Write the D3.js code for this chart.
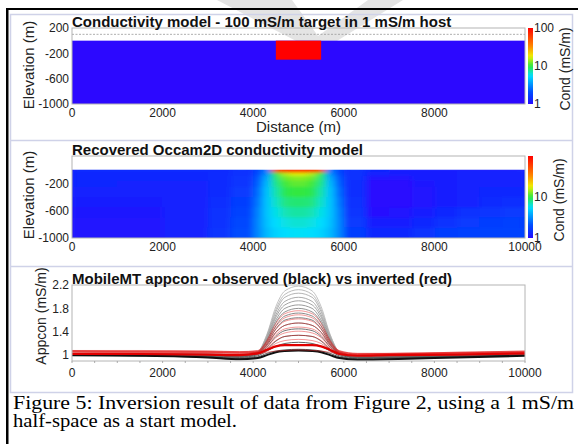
<!DOCTYPE html>
<html>
<head>
<meta charset="utf-8">
<script src="https://cdn.jsdelivr.net/npm/d3@7"></script>
<style>
body { margin: 0; background: #fff; }
svg { display: block; font-family: Arial, "Liberation Sans", sans-serif; }
</style>
</head>
<body>
<div id="chart"></div>
<script>
'use strict';

// distance ticks (m)
let distTicks = [0, 2000, 4000, 6000, 8000, 10000];
let condTicks = [1, 10, 100];

// panel 1 - true model blocks
let modelX0 = [0, 4500];
let modelX1 = [10000, 5500];
let modelTop = [0, 0];
let modelBottom = [-1000, -300];
let modelCond = [1, 100];
let sensorElev = 100;

// panel 2 - recovered Occam2D model (mS/m), rows from surface down
let occamX = [0, 1000, 2000, 3000, 3500, 4000, 4200, 4400, 4600, 4800, 5000, 5200,
    5400, 5600, 5800, 6000, 6500, 7000, 7500, 8000, 8500, 9000, 9500, 10000];
let occamZ = [0, -40, -90, -160, -250, -400, -550, -700, -850, -1000];
let occamCond = [
    [1.3, 1.3, 1.3, 1.35, 1.45, 1.9, 2.8, 60, 90, 100, 100, 90, 60, 2.8, 1.9, 1.45, 1.3, 1.25, 1.25, 1.25, 1.25, 1.25, 1.25],
    [1.3, 1.3, 1.3, 1.35, 1.5, 2.0, 3.2, 10, 15, 17, 17, 15, 10, 3.2, 2.0, 1.45, 1.25, 1.2, 1.2, 1.2, 1.25, 1.25, 1.25],
    [1.3, 1.3, 1.3, 1.35, 1.55, 2.2, 3.8, 8.5, 12, 13, 13, 12, 8.5, 3.8, 2.2, 1.45, 1.1, 1.1, 1.2, 1.2, 1.25, 1.25, 1.25],
    [1.3, 1.25, 1.25, 1.35, 1.55, 2.3, 4.2, 8, 10.5, 11.5, 11.5, 10.5, 8, 4.2, 2.3, 1.4, 1.0, 1.0, 1.15, 1.2, 1.25, 1.25, 1.25],
    [1.25, 1.25, 1.25, 1.35, 1.65, 2.5, 4.5, 7.2, 9.5, 10, 10, 9.5, 7.2, 4.5, 2.5, 1.4, 0.95, 1.0, 1.1, 1.2, 1.25, 1.3, 1.3],
    [1.2, 1.2, 1.25, 1.4, 1.75, 2.7, 4.6, 6.6, 8.2, 8.6, 8.6, 8.2, 6.6, 4.6, 2.7, 1.45, 0.95, 1.0, 1.1, 1.2, 1.25, 1.35, 1.4],
    [1.15, 1.15, 1.25, 1.45, 1.85, 2.9, 4.6, 6.0, 7.0, 7.4, 7.4, 7.0, 6.0, 4.6, 2.9, 1.55, 1.05, 1.1, 1.2, 1.3, 1.45, 1.55, 1.65],
    [1.1, 1.1, 1.25, 1.5, 1.95, 3.0, 4.5, 5.5, 6.1, 6.4, 6.4, 6.1, 5.5, 4.5, 3.0, 1.65, 1.2, 1.2, 1.3, 1.5, 1.65, 1.75, 1.8],
    [1.1, 1.1, 1.25, 1.55, 2.05, 3.0, 4.3, 5.1, 5.5, 5.7, 5.7, 5.5, 5.1, 4.3, 3.0, 1.75, 1.3, 1.3, 1.45, 1.7, 1.8, 1.85, 1.85]
];

// panel 3 - apparent conductivity profiles (mS/m)
let appX = [0, 1500, 3000, 3700, 4100, 4300, 4500, 4700, 5000, 5300, 5500, 5700, 5900, 6300, 7000, 8500, 10000];
let appTicks = [1, 1.4, 1.8, 2.2];
let obsCurves = [
    [1.03, 1.03, 1.02, 1.01, 1.06, 1.35, 1.83, 2.10, 2.18, 2.10, 1.83, 1.35, 1.06, 0.99, 0.99, 1.00, 1.02],
    [1.03, 1.03, 1.02, 1.01, 1.06, 1.34, 1.78, 2.04, 2.12, 2.04, 1.78, 1.34, 1.06, 0.99, 0.99, 1.00, 1.02],
    [1.03, 1.02, 1.02, 1.00, 1.05, 1.32, 1.74, 1.99, 2.06, 1.99, 1.74, 1.32, 1.05, 0.99, 0.99, 1.00, 1.02],
    [1.02, 1.02, 1.01, 1.00, 1.05, 1.30, 1.69, 1.92, 1.99, 1.92, 1.69, 1.30, 1.05, 0.98, 0.98, 1.00, 1.02],
    [1.02, 1.02, 1.01, 1.00, 1.05, 1.28, 1.65, 1.86, 1.93, 1.86, 1.65, 1.28, 1.05, 0.98, 0.98, 1.00, 1.02],
    [1.02, 1.02, 1.01, 0.99, 1.04, 1.26, 1.60, 1.80, 1.86, 1.80, 1.60, 1.26, 1.04, 0.98, 0.98, 0.99, 1.01],
    [1.02, 1.01, 1.00, 0.99, 1.04, 1.24, 1.56, 1.74, 1.80, 1.74, 1.56, 1.24, 1.04, 0.97, 0.98, 0.99, 1.01],
    [1.02, 1.01, 1.00, 0.99, 1.04, 1.22, 1.50, 1.67, 1.72, 1.67, 1.50, 1.22, 1.04, 0.97, 0.97, 0.99, 1.01],
    [1.01, 1.01, 1.00, 0.98, 1.03, 1.19, 1.45, 1.60, 1.64, 1.60, 1.45, 1.19, 1.03, 0.97, 0.97, 0.99, 1.01],
    [1.01, 1.01, 0.99, 0.98, 1.03, 1.17, 1.39, 1.51, 1.55, 1.51, 1.39, 1.17, 1.03, 0.96, 0.97, 0.98, 1.01],
    [1.01, 1.00, 0.99, 0.97, 1.02, 1.14, 1.32, 1.42, 1.45, 1.42, 1.32, 1.14, 1.02, 0.96, 0.96, 0.98, 1.00],
    [1.01, 1.00, 0.98, 0.96, 1.01, 1.10, 1.24, 1.32, 1.34, 1.32, 1.24, 1.10, 1.01, 0.95, 0.96, 0.98, 1.00],
    [1.00, 0.99, 0.97, 0.95, 0.99, 1.07, 1.15, 1.20, 1.22, 1.20, 1.15, 1.07, 0.99, 0.94, 0.95, 0.97, 1.00],
    [1.00, 0.99, 0.96, 0.94, 0.97, 1.03, 1.07, 1.09, 1.10, 1.09, 1.07, 1.03, 0.97, 0.93, 0.94, 0.97, 1.00]
];
let obsLow = [1.00, 0.99, 0.96, 0.93, 0.95, 1.00, 1.05, 1.07, 1.08, 1.07, 1.05, 1.00, 0.95, 0.92, 0.93, 0.96, 0.99];
let invCurves = [
    [1.08, 1.08, 1.07, 1.06, 1.08, 1.25, 1.54, 1.71, 1.76, 1.71, 1.54, 1.25, 1.08, 1.03, 1.03, 1.05, 1.07],
    [1.08, 1.07, 1.07, 1.06, 1.07, 1.23, 1.49, 1.64, 1.69, 1.64, 1.49, 1.23, 1.07, 1.03, 1.03, 1.05, 1.07],
    [1.07, 1.07, 1.06, 1.05, 1.07, 1.21, 1.44, 1.58, 1.62, 1.58, 1.44, 1.21, 1.07, 1.02, 1.03, 1.04, 1.06],
    [1.07, 1.06, 1.06, 1.05, 1.06, 1.19, 1.39, 1.51, 1.55, 1.51, 1.39, 1.19, 1.06, 1.02, 1.02, 1.04, 1.06],
    [1.06, 1.06, 1.05, 1.04, 1.05, 1.17, 1.35, 1.45, 1.48, 1.45, 1.35, 1.17, 1.05, 1.01, 1.02, 1.04, 1.05],
    [1.06, 1.05, 1.05, 1.04, 1.05, 1.14, 1.30, 1.38, 1.41, 1.38, 1.30, 1.14, 1.05, 1.01, 1.02, 1.03, 1.05],
    [1.05, 1.05, 1.04, 1.03, 1.05, 1.12, 1.25, 1.32, 1.34, 1.32, 1.25, 1.12, 1.05, 1.00, 1.01, 1.03, 1.04],
    [1.05, 1.04, 1.04, 1.03, 1.04, 1.10, 1.20, 1.25, 1.27, 1.25, 1.20, 1.10, 1.04, 1.00, 1.01, 1.02, 1.04],
    [1.03, 1.03, 1.02, 1.01, 1.02, 1.05, 1.07, 1.08, 1.09, 1.08, 1.07, 1.05, 1.02, 0.99, 1.00, 1.01, 1.02]
];
let invMain = [1.02, 1.02, 1.01, 1.00, 1.03, 1.09, 1.15, 1.17, 1.17, 1.17, 1.15, 1.09, 1.02, 0.99, 1.00, 1.01, 1.03];

let captionLines = ['Figure 5: Inversion result of data from Figure 2, using a 1 mS/m',
    'half-space as a start model.'];
let captionWidths = [561, 224];

// colour map
let condStops = [1, 1.3, 2, 3.2, 5.6, 10, 18, 35, 100];
let condColors = ['#2c08ff', '#1028ff', '#0048ff', '#0090ff', '#00e0ff', '#30e840', '#f0f000', '#ff8000', '#ff0000'];

let colour = d3.scaleLog().domain(condStops).range(condColors).clamp(true);

let svg = d3.select('#chart').append('svg')
    .attr('width', 578)
    .attr('height', 444);

let defs = svg.append('defs');

// faint watermark behind the figure
svg.append('path')
    .attr('d', 'M217,0 L292,0 L318,36 L368,0 L403,0 L332,44 L302,44 Z')
    .attr('fill', '#e4e4e4');

// page frame
svg.append('rect').attr('x', 6).attr('y', 8).attr('width', 572).attr('height', 2).attr('fill', '#000');
svg.append('rect').attr('x', 6).attr('y', 8).attr('width', 2.5).attr('height', 436).attr('fill', '#000');
svg.append('rect')
    .attr('x', 10.5).attr('y', 14.5).attr('width', 562).attr('height', 378)
    .attr('fill', 'none').attr('stroke', '#cfd2e8').attr('stroke-width', 1.5);
[140.5, 266.5].forEach((yy) => {
    svg.append('line').attr('x1', 10.5).attr('x2', 572.5).attr('y1', yy).attr('y2', yy)
        .attr('stroke', '#cfd2e8').attr('stroke-width', 1.5);
});

let x = d3.scaleLinear().domain([0, 10000]).range([72, 525]);
let y1 = d3.scaleLinear().domain([-1000, 200]).range([104, 28]);
let y2 = d3.scaleLinear().domain([-1000, 200]).range([238, 156]);
let y3 = d3.scaleLinear().domain([0.9, 2.2]).range([361, 285]);

// colour bar gradient
let grad = defs.append('linearGradient').attr('id', 'cbar')
    .attr('x1', 0).attr('y1', 1).attr('x2', 0).attr('y2', 0);
d3.range(0, 1.0001, 0.04).forEach((t) => {
    grad.append('stop').attr('offset', t).attr('stop-color', colour(Math.pow(10, 2 * t)));
});

let soft = defs.append('filter').attr('id', 'soft')
    .attr('x', 0).attr('y', 0).attr('width', 1).attr('height', 1);
soft.append('feGaussianBlur').attr('stdDeviation', '3.5 1.6').attr('edgeMode', 'duplicate');
soft.append('feComponentTransfer').append('feFuncA').attr('type', 'table').attr('tableValues', '1 1');

defs.append('clipPath').attr('id', 'clip2').append('rect')
    .attr('x', x(0)).attr('y', y2(0)).attr('width', x(10000) - x(0)).attr('height', y2(-1000) - y2(0));
defs.append('clipPath').attr('id', 'clip3').append('rect')
    .attr('x', x(0)).attr('y', y3(2.2)).attr('width', x(10000) - x(0)).attr('height', y3(0.9) - y3(2.2));

function frame(yScale) {
    let r = yScale.range();
    svg.append('rect')
        .attr('x', x(0)).attr('y', r[1])
        .attr('width', x(10000) - x(0)).attr('height', r[0] - r[1])
        .attr('fill', 'none').attr('stroke', '#b4b4b4').attr('stroke-width', 1);
}

function title(txt, yy) {
    svg.append('text').attr('x', 72).attr('y', yy)
        .attr('font-size', 15).attr('font-weight', 'bold').attr('fill', '#111')
        .text(txt);
}

function xLabels(ticks, yy) {
    svg.append('g').selectAll('text').data(ticks).join('text')
        .attr('x', (d) => x(d)).attr('y', yy)
        .attr('text-anchor', 'middle').attr('font-size', 12).attr('fill', '#222')
        .text((d) => d);
}

function yLabels(ticks, yScale, fmt) {
    svg.append('g').selectAll('text').data(ticks).join('text')
        .attr('x', 69).attr('y', (d) => yScale(d)).attr('dy', '0.35em')
        .attr('text-anchor', 'end').attr('font-size', 12).attr('fill', '#222')
        .text(fmt);
}

function vLabel(txt, cx, cy, size) {
    svg.append('text')
        .attr('transform', 'translate(' + cx + ',' + cy + ') rotate(-90)')
        .attr('text-anchor', 'middle').attr('dy', '0.35em')
        .attr('font-size', size).attr('fill', '#222')
        .text(txt);
}

function colourBar(yScale, ticks, labelX) {
    let r = yScale.range();
    let cb = d3.scaleLog().domain([1, 100]).range([r[0], r[1]]);
    svg.append('rect').attr('x', 528).attr('y', r[1]).attr('width', 5).attr('height', r[0] - r[1])
        .attr('fill', 'url(#cbar)');
    svg.append('g').selectAll('text').data(ticks).join('text')
        .attr('x', 534).attr('y', (d) => cb(d)).attr('dy', '0.35em')
        .attr('font-size', 12).attr('fill', '#222')
        .text((d) => d);
    vLabel('Cond (mS/m)', labelX, (r[0] + r[1]) / 2 + 3, 14);
}

// ---- panel 1 ----
svg.append('g').selectAll('rect').data(modelCond).join('rect')
    .attr('x', (d, i) => x(modelX0[i]))
    .attr('y', (d, i) => y1(modelTop[i]))
    .attr('width', (d, i) => x(modelX1[i]) - x(modelX0[i]))
    .attr('height', (d, i) => y1(modelBottom[i]) - y1(modelTop[i]))
    .attr('fill', (d) => colour(d));
svg.append('line')
    .attr('x1', x(0)).attr('x2', x(10000)).attr('y1', y1(sensorElev)).attr('y2', y1(sensorElev))
    .attr('stroke', '#999').attr('stroke-width', 0.8).attr('stroke-dasharray', '2,1.5');
frame(y1);
title('Conductivity model - 100 mS/m target in 1 mS/m host', 27);
xLabels(distTicks.slice(0, 5), 117);
yLabels([200, -200, -600, -1000], y1, (d) => d);
svg.append('text').attr('x', x(5000)).attr('y', 132).attr('text-anchor', 'middle')
    .attr('font-size', 15).attr('fill', '#222').text('Distance (m)');
vLabel('Elevation (m)', 29, 65, 15);
colourBar(y1, condTicks, 565);

// ---- panel 2 ----
let cells = [];
occamCond.forEach((row, r) => {
    row.forEach((v, c) => {
        cells.push({x0: occamX[c], x1: occamX[c + 1], z0: occamZ[r], z1: occamZ[r + 1], v: v});
    });
});
svg.append('g').attr('clip-path', 'url(#clip2)')
    .append('g').attr('filter', 'url(#soft)')
    .selectAll('rect').data(cells).join('rect')
    .attr('x', (d) => x(d.x0))
    .attr('y', (d) => y2(d.z0))
    .attr('width', (d) => x(d.x1) - x(d.x0) + 0.6)
    .attr('height', (d) => y2(d.z1) - y2(d.z0) + 0.6)
    .attr('fill', (d) => colour(d.v));
frame(y2);
title('Recovered Occam2D conductivity model', 155);
xLabels(distTicks, 251);
yLabels([-200, -600, -1000], y2, (d) => d);
vLabel('Elevation (m)', 29, 195, 15);
colourBar(y2, [1, 10], 559);

// ---- panel 3 ----
let line = d3.line()
    .x((d, i) => x(appX[i]))
    .y((d) => y3(d))
    .curve(d3.curveMonotoneX);
let g3 = svg.append('g').attr('clip-path', 'url(#clip3)').attr('fill', 'none');
let grey = d3.interpolateRgb('#bcbcbc', '#484848');
g3.selectAll('path.obs').data(obsCurves).join('path')
    .attr('class', 'obs')
    .attr('d', line)
    .attr('stroke', (d, i) => grey(i / (obsCurves.length - 1)))
    .attr('stroke-width', 0.9);
g3.append('path').datum(obsLow).attr('d', line)
    .attr('stroke', '#111').attr('stroke-width', 2);
g3.selectAll('path.inv').data(invCurves).join('path')
    .attr('class', 'inv')
    .attr('d', line)
    .attr('stroke', '#e41a1a').attr('stroke-opacity', 0.5)
    .attr('stroke-width', 0.9);
g3.append('path').datum(invMain).attr('d', line)
    .attr('stroke', '#e00000').attr('stroke-width', 2.2);
frame(y3);
svg.append('g').selectAll('line').data(d3.range(0, 10001, 500)).join('line')
    .attr('x1', (d) => x(d)).attr('x2', (d) => x(d))
    .attr('y1', y3(0.9)).attr('y2', y3(0.9) + 2)
    .attr('stroke', '#999').attr('stroke-width', 0.8);
title('MobileMT appcon - observed (black) vs inverted (red)', 284);
xLabels(distTicks, 377);
yLabels(appTicks, y3, (d) => d);
vLabel('Appcon (mS/m)', 41, 316, 14);

// ---- caption ----
svg.append('g')
    .attr('font-family', '"Liberation Serif", "Times New Roman", serif')
    .attr('font-size', 19).attr('fill', '#000')
    .selectAll('text').data(captionLines).join('text')
    .attr('x', 13)
    .attr('y', (d, i) => 409 + i * 18)
    .attr('textLength', (d, i) => captionWidths[i])
    .attr('lengthAdjust', 'spacingAndGlyphs')
    .text((d) => d);
</script>
</body>
</html>
